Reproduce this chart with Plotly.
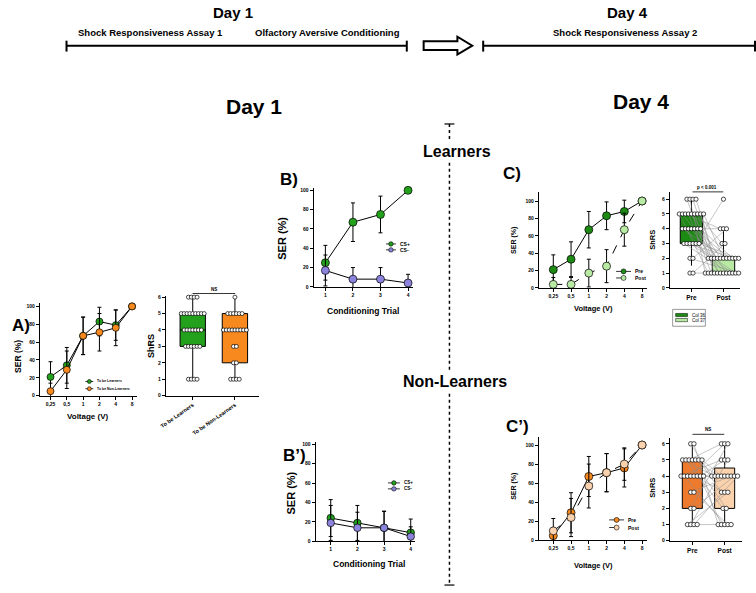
import plotly.graph_objects as go

W, H = 756, 593
FONT = "Liberation Sans, Arial, sans-serif"

GREEN = "#23a01c"
DKGREEN = "#1d8a14"
LTGREEN = "#b9eaa4"
ORANGE = "#f7891f"
PEACH = "#fbd2ae"
PURPLE = "#8c84dc"

# ---------------- data ----------------
volt_labels = ["0,25", "0,5", "1", "2", "4", "8"]
trials = [1, 2, 3, 4]

# A) Day 1 shock responsiveness
a_learn = [21, 34, 67, 83, 79, 100]
a_learn_err = [17, 20, 21, 16, 17, 0]
a_nonlearn = [5, 29, 67, 71, 76, 100]
a_nonlearn_err = [9, 21, 21, 21, 20, 0]

a_box_names = ["To be Learners", "To be Non-Learners"]
a_box_q1 = [3, 2]
a_box_med = [4, 4]
a_box_q3 = [5, 5]
a_box_lo = [1, 1]
a_box_hi = [6, 6]
a_learn_shrs = [6, 6, 6, 6, 5, 5, 5, 5, 5, 5, 5, 5, 5, 4, 4, 4, 4, 4, 4, 4,
                3, 3, 3, 3, 3, 3, 1, 1, 1, 1]
a_nonlearn_shrs = [6, 5, 5, 5, 5, 5, 5, 4, 4, 4, 4, 4, 4, 4, 4, 4, 3, 3, 2, 2,
                   1, 1, 1, 1]

# B) Learners conditioning
b_csp = [25, 67, 75, 100]
b_csp_err = [18, 20, 19, 0]
b_csm = [17, 8, 8, 4]
b_csm_err = [16, 12, 12, 9]

# B') Non-learners conditioning
bp_csp = [24, 19, 14, 9]
bp_csp_err = [19, 18, 17, 14]
bp_csm = [19, 14, 14, 5]
bp_csm_err = [18, 16, 17, 10]

# C) Learners day 4
c_pre = [21, 33, 67, 83, 88, 100]
c_pre_err = [17, 20, 21, 16, 13, 0]
c_post = [4, 4, 17, 25, 67, 100]
c_post_err = [8, 8, 16, 19, 19, 0]

c_box_names = ["Pre", "Post"]
c_box_q1 = [3, 1]
c_box_med = [4, 2]
c_box_q3 = [5, 2]
c_box_lo = [1.5, 1]
c_box_hi = [6, 4]
c_pre_shrs = [6, 6, 6, 6, 5, 5, 5, 5, 5, 5, 5, 5, 5, 4, 4, 4, 4, 4, 4, 4,
              3, 3, 3, 3, 3, 3, 2, 2, 1, 1]
c_post_shrs = [2, 1, 2, 2, 1, 2, 4, 1, 2, 1, 3, 1, 2, 2, 1, 4, 1, 2, 1, 2,
               1, 2, 1, 1, 6, 2, 1, 4, 1, 3]

# C') Non-learners day 4
cp_pre = [5, 29, 67, 71, 76, 100]
cp_pre_err = [8, 21, 21, 20, 20, 0]
cp_post = [10, 24, 57, 71, 80, 100]
cp_post_err = [13, 20, 23, 20, 17, 0]

cp_box_q1 = [2, 2]
cp_box_med = [4, 4]
cp_box_q3 = [5, 4.5]
cp_box_lo = [1, 1]
cp_box_hi = [6, 6]
cp_pre_shrs = [6, 6, 5, 5, 5, 5, 5, 5, 5, 4, 4, 4, 4, 4, 4, 4, 4, 3, 3, 2, 2,
               1, 1, 1, 1]
cp_post_shrs = [4, 1, 4, 2, 6, 1, 4, 3, 4, 5, 1, 4, 6, 3, 4, 5, 2, 4, 1, 6, 4,
                3, 5, 4, 1]


# ---------------- helpers ----------------
def xdom(l, r):
    return [l / W, r / W]


def ydom(t, b):
    return [1 - b / H, 1 - t / H]


def px(x):
    return x / W


def py(y):
    return 1 - y / H


def row_offsets(values, spacing):
    offs = [0.0] * len(values)
    for v in set(values):
        idx = [i for i, u in enumerate(values) if u == v]
        k = len(idx)
        for j, i in enumerate(idx):
            offs[i] = (j - (k - 1) / 2) * spacing
    return offs


def ax(**kw):
    d = dict(showline=True, linecolor="black", linewidth=1, ticks="outside",
             ticklen=3, tickwidth=1, tickcolor="black", showgrid=False,
             zeroline=False, fixedrange=True,
             tickfont=dict(family=FONT, size=5, color="black", weight="bold"))
    d.update(kw)
    return d


fig = go.Figure()
shapes = []
annots = []


def text(x, y, s, size, angle=0, anchor="center", weight="bold"):
    annots.append(dict(x=px(x), y=py(y), xref="paper", yref="paper", text=s,
                       showarrow=False, textangle=angle, xanchor=anchor,
                       yanchor="middle",
                       font=dict(family=FONT, size=size, color="black",
                                 weight=weight)))


def hline(x0, x1, y, width=1, dash="solid", color="black"):
    shapes.append(dict(type="line", xref="paper", yref="paper", x0=px(x0),
                       x1=px(x1), y0=py(y), y1=py(y),
                       line=dict(color=color, width=width, dash=dash)))


def vline(x, y0, y1, width=1, dash="solid"):
    shapes.append(dict(type="line", xref="paper", yref="paper", x0=px(x),
                       x1=px(x), y0=py(y0), y1=py(y1),
                       line=dict(color="black", width=width, dash=dash)))


def legend_item(x0, x1, y, color, label, dash="solid", msize=4.5, fsize=4.5):
    hline(x0, x1, y, width=0.8, dash=dash)
    mx = (x0 + x1) / 2
    r = msize / 2
    shapes.append(dict(type="circle", xref="paper", yref="paper",
                       x0=px(mx - r), x1=px(mx + r), y0=py(y + r), y1=py(y - r),
                       fillcolor=color, line=dict(color="black", width=0.6)))
    text(x1 + 2, y, label, fsize, anchor="left")


def line_series(xv, yv, err, color, xa, ya, msize, dash="solid"):
    fig.add_trace(go.Scatter(
        x=xv, y=yv, mode="lines+markers", xaxis=xa, yaxis=ya,
        line=dict(color="black", width=1, dash=dash),
        marker=dict(size=msize, color=color, line=dict(color="black", width=0.7)),
        error_y=dict(type="data", array=err, color="black", thickness=1, width=2),
        cliponaxis=False, showlegend=False))


def box_panel(xa, ya, q1, med, q3, lo, hi, colors, width, pre, post, spacing,
              paired, msize=4):
    for i in range(2):
        fig.add_trace(go.Box(
            x=[i], q1=[q1[i]], median=[med[i]], q3=[q3[i]],
            lowerfence=[lo[i]], upperfence=[hi[i]], width=width,
            fillcolor=colors[i], line=dict(color="black", width=1),
            whiskerwidth=0, boxpoints=False, xaxis=xa, yaxis=ya,
            showlegend=False, hoverinfo="skip"))
    o0 = row_offsets(pre, spacing)
    o1 = row_offsets(post, spacing)
    x0 = [0 + o for o in o0]
    x1 = [1 + o for o in o1]
    if paired:
        lx, ly = [], []
        for a, b, c, d in zip(x0, pre, x1, post):
            lx += [a, c, None]
            ly += [b, d, None]
        fig.add_trace(go.Scatter(x=lx, y=ly, mode="lines", xaxis=xa, yaxis=ya,
                                 line=dict(color="#8c8c8c", width=0.5),
                                 showlegend=False, hoverinfo="skip",
                                 cliponaxis=False))
    fig.add_trace(go.Scatter(x=x0 + x1, y=list(pre) + list(post), mode="markers",
                             xaxis=xa, yaxis=ya, cliponaxis=False,
                             marker=dict(size=msize, color="white",
                                         line=dict(color="black", width=0.7)),
                             showlegend=False))


# ---------------- A ----------------
line_series(volt_labels, a_learn, a_learn_err, GREEN, "x", "y", 7)
line_series(volt_labels, a_nonlearn, a_nonlearn_err, ORANGE, "x", "y", 7)
box_panel("x2", "y2", a_box_q1, a_box_med, a_box_q3, a_box_lo, a_box_hi,
          [GREEN, ORANGE], 0.6, a_learn_shrs, a_nonlearn_shrs, 0.068, False,
          msize=4)

# ---------------- B ----------------
line_series(trials, b_csp, b_csp_err, GREEN, "x3", "y3", 8)
line_series(trials, b_csm, b_csm_err, PURPLE, "x3", "y3", 8)

# ---------------- C ----------------
line_series(volt_labels, c_pre, c_pre_err, DKGREEN, "x4", "y4", 8)
line_series(volt_labels, c_post, c_post_err, LTGREEN, "x4", "y4", 8, dash="dash")
box_panel("x5", "y5", c_box_q1, c_box_med, c_box_q3, c_box_lo, c_box_hi,
          [DKGREEN, LTGREEN], 0.7, c_pre_shrs, c_post_shrs, 0.095, True,
          msize=4.2)

# ---------------- B' ----------------
line_series(trials, bp_csp, bp_csp_err, GREEN, "x6", "y6", 7.5)
line_series(trials, bp_csm, bp_csm_err, PURPLE, "x6", "y6", 7.5)

# ---------------- C' ----------------
line_series(volt_labels, cp_pre, cp_pre_err, ORANGE, "x7", "y7", 8)
line_series(volt_labels, cp_post, cp_post_err, PEACH, "x7", "y7", 8, dash="dash")
box_panel("x8", "y8", cp_box_q1, cp_box_med, cp_box_q3, cp_box_lo, cp_box_hi,
          ["#ee7a2e", PEACH], 0.62, cp_pre_shrs, cp_post_shrs, 0.1, True,
          msize=4.4)

# ---------------- axes ----------------
ser_ticks = [0, 20, 40, 60, 80, 100]
shrs_ticks = [0, 1, 2, 3, 4, 5, 6]
cat = dict(type="category", categoryorder="array", categoryarray=volt_labels)

layout_axes = dict(
    xaxis=ax(domain=xdom(34, 132), range=[-0.66, 5.3], anchor="y", **cat),
    yaxis=ax(domain=ydom(304, 397), range=[0, 103.3], anchor="x",
             tickvals=ser_ticks),
    xaxis2=ax(domain=xdom(161, 255), range=[-0.64, 1.57], anchor="y2",
              tickvals=[0, 1], ticktext=a_box_names, tickangle=-35,
              tickfont=dict(family=FONT, size=5.5, color="black", weight="bold")),
    yaxis2=ax(domain=ydom(296, 397), range=[0, 6.1], anchor="x2",
              tickvals=shrs_ticks),
    xaxis3=ax(domain=xdom(310, 410), range=[0.57, 4.17], anchor="y3",
              tickvals=trials),
    yaxis3=ax(domain=ydom(188, 287.3), range=[0, 102], anchor="x3",
              tickvals=ser_ticks),
    xaxis4=ax(domain=xdom(537, 646), range=[-0.82, 5.27], anchor="y4", **cat),
    yaxis4=ax(domain=ydom(191.7, 288.3), range=[0, 110.3], anchor="x4",
              tickvals=ser_ticks),
    xaxis5=ax(domain=xdom(669, 740), range=[-0.68, 1.52], anchor="y5",
              tickvals=[0, 1], ticktext=c_box_names,
              tickfont=dict(family=FONT, size=6.5, color="black", weight="bold")),
    yaxis5=ax(domain=ydom(191.7, 288.3), range=[0, 6.48], anchor="x5",
              tickvals=shrs_ticks),
    xaxis6=ax(domain=xdom(312, 412), range=[0.43, 4.15], anchor="y6",
              tickvals=trials),
    yaxis6=ax(domain=ydom(444, 544), range=[0, 102], anchor="x6",
              tickvals=ser_ticks),
    xaxis7=ax(domain=xdom(537, 646), range=[-0.82, 5.27], anchor="y7", **cat),
    yaxis7=ax(domain=ydom(438.3, 543), range=[0, 108.8], anchor="x7",
              tickvals=ser_ticks),
    xaxis8=ax(domain=xdom(669, 742), range=[-0.7, 1.54], anchor="y8",
              tickvals=[0, 1], ticktext=c_box_names,
              tickfont=dict(family=FONT, size=6.5, color="black", weight="bold")),
    yaxis8=ax(domain=ydom(440, 543.3), range=[0, 6.34], anchor="x8",
              tickvals=shrs_ticks),
)

# ---------------- header ----------------
text(229, 11, "Day 1", 15)
text(626, 11, "Day 4", 15)
text(146, 31, "Shock Responsiveness Assay 1", 9.5)
text(324, 31, "Olfactory Aversive Conditioning", 9.5)
text(624, 31, "Shock Responsiveness Assay 2", 9.5)
hline(61, 404, 44, width=2)
vline(61, 39, 50, width=2)
vline(404, 39, 50, width=2)
hline(481, 756, 44, width=2)
vline(481, 39, 50, width=2)
vline(755, 39, 50, width=2)
arrow_pts = [(421, 39.5), (455, 39.5), (455, 35), (470, 44), (455, 53),
             (455, 48.5), (421, 48.5)]
path = "M " + " L ".join(f"{px(x):.5f},{py(y):.5f}" for x, y in arrow_pts) + " Z"
shapes.append(dict(type="path", xref="paper", yref="paper", path=path,
                   fillcolor="white", line=dict(color="black", width=2)))

text(250, 105, "Day 1", 21)
text(640, 100, "Day 4", 21)
text(455, 151, "Learners", 16)
text(453, 383, "Non-Learners", 16)

# dotted separator
vline(447, 123, 140, width=1.5, dash="dot")
vline(447, 162, 372, width=1.5, dash="dot")
vline(447, 395, 588, width=1.5, dash="dot")
hline(442, 452, 123, width=1.2)
hline(442, 452, 588, width=1.2)

# panel labels
text(15, 326, "A)", 17)
text(285, 179, "B)", 17)
text(510, 173, "C)", 17)
text(291, 457, "B’)", 17)
text(516, 428, "C’)", 17)

# axis titles
text(12, 357, "SER (%)", 8.5, angle=-90)
text(83, 418, "Voltage (V)", 8)
text(146, 347, "ShRS", 9, angle=-90)
text(278, 238, "SER (%)", 11, angle=-90)
text(360, 312, "Conditioning Trial", 8.5)
text(512, 240, "SER (%)", 7, angle=-90)
text(592, 309, "Voltage (V)", 7.5)
text(652, 240, "ShRS", 7.5, angle=-90)
text(287, 495, "SER (%)", 11, angle=-90)
text(366, 567, "Conditioning Trial", 8.5)
text(512, 488, "SER (%)", 7, angle=-90)
text(592, 568, "Voltage (V)", 7.5)
text(652, 490, "ShRS", 7.5, angle=-90)

# significance brackets
hline(188, 231, 294, width=0.8)
text(210, 290, "NS", 4.5)
hline(692, 723, 191.5, width=0.8)
text(707, 187, "p < 0.001", 4.5)
hline(692, 724, 436, width=0.8)
text(708, 431.5, "NS", 4.5)

# legends
legend_item(80, 88, 382.7, GREEN, "To be Learners", msize=4, fsize=3.5)
legend_item(80, 88, 390, ORANGE, "To be Non-Learners", msize=4, fsize=3.5)
legend_item(383, 393, 244, GREEN, "CS+", fsize=5)
legend_item(383, 393, 250, PURPLE, "CS-", fsize=5)
legend_item(615, 630, 271.7, DKGREEN, "Pre", msize=5, fsize=5)
legend_item(615, 630, 278.3, LTGREEN, "Post", dash="dash", msize=5, fsize=5)
legend_item(385, 397, 485, GREEN, "CS+", fsize=4.5)
legend_item(385, 397, 491, PURPLE, "CS-", fsize=4.5)
legend_item(608, 623, 522.3, ORANGE, "Pre", msize=5, fsize=5)
legend_item(608, 623, 530, PEACH, "Post", dash="dash", msize=5, fsize=5)

# Col 36 / Col 37 legend
shapes.append(dict(type="rect", xref="paper", yref="paper", x0=px(672),
                   x1=px(705), y0=py(327), y1=py(310),
                   line=dict(color="#555", width=0.6), fillcolor="white"))
for yy, col, lab in [(315.7, DKGREEN, "Col 36"), (320.8, LTGREEN, "Col 37")]:
    shapes.append(dict(type="rect", xref="paper", yref="paper", x0=px(675),
                       x1=px(687), y0=py(yy + 1.6), y1=py(yy - 1.6),
                       fillcolor=col, line=dict(color="black", width=0.5)))
    text(689, yy, lab, 4.5, anchor="left", weight="normal")

fig.update_layout(
    width=W, height=H, margin=dict(l=0, r=0, t=0, b=0),
    paper_bgcolor="white", plot_bgcolor="white", showlegend=False,
    font=dict(family=FONT, color="black"),
    shapes=shapes, annotations=annots, boxmode="overlay",
    **layout_axes)

fig.write_html("out.html")
